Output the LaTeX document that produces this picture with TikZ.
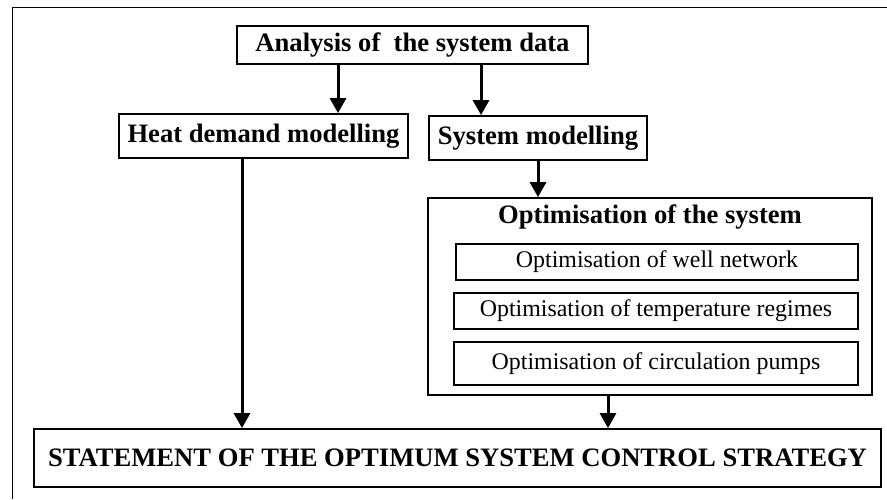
\documentclass[tikz,border=0pt]{standalone}
\usepackage{fontspec}
\setmainfont{Liberation Serif}
\usetikzlibrary{arrows.meta}
\tikzset{
  box/.style={draw, line width=1.8pt, inner sep=0pt, minimum width=#1},
  bigtxt/.style={font=\fontsize{26.6}{30}\selectfont\bfseries},
  subtxt/.style={font=\fontsize{23.9}{27}\selectfont},
  arr/.style={line width=3pt, -{Triangle[width=16pt,length=15pt]}},
}
\begin{document}
\begin{tikzpicture}[x=1pt,y=-1pt]
\useasboundingbox (0,0) rectangle (887,499);
\draw[line width=1pt] (12,499) -- (12,7) -- (887,7);
\node[box=351pt, minimum height=38pt, bigtxt] (ana) at (412.5,45) {Analysis of \ the system data};
\node[box=289pt, minimum height=44pt, bigtxt] (heat) at (263.5,136) {Heat demand modelling};
\node[box=218pt, minimum height=44pt, bigtxt] (sys) at (538,138) {System modelling};
\node[box=444pt, minimum height=197pt] (opt) at (650,296.5) {};
\node[bigtxt, inner sep=0pt] (optt) at (650,217) {Optimisation of the system};
\node[box=402pt, minimum height=36pt, subtxt] (s1) at (657,262) {Optimisation of well network};
\node[box=404pt, minimum height=36pt, subtxt] (s2) at (656,311) {Optimisation of temperature regimes};
\node[box=404pt, minimum height=43pt, subtxt] (s3) at (656,363.5) {Optimisation of circulation pumps};
\node[box=847pt, minimum height=58pt, font=\fontsize{26.6}{30}\selectfont\bfseries] (fin) at (457.5,458) {STATEMENT OF THE OPTIMUM SYSTEM CONTROL STRATEGY};
\coordinate (xa) at (338,0);
\coordinate (xb) at (481,0);
\coordinate (xc) at (538,0);
\coordinate (xd) at (242,0);
\coordinate (xe) at (608,0);
\draw[arr] (ana.south -| xa) -- (heat.north -| xa);
\draw[arr] (ana.south -| xb) -- (sys.north -| xb);
\draw[arr] (sys.south -| xc) -- (opt.north -| xc);
\draw[arr] (heat.south -| xd) -- (fin.north -| xd);
\draw[arr] (opt.south -| xe) -- (fin.north -| xe);
\end{tikzpicture}
\end{document}
